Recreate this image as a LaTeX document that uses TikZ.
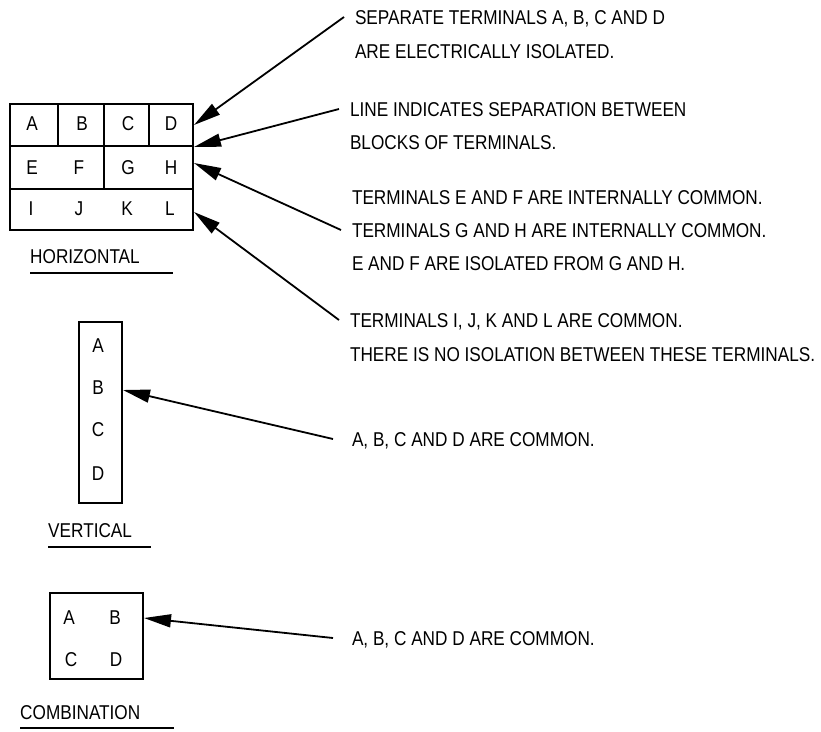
\documentclass[tikz,border=0pt]{standalone}
\usepackage{fontspec}
\setmainfont{Liberation Sans}[FakeStretch=0.86]
\usetikzlibrary{arrows.meta}

\begin{document}
\begin{tikzpicture}[
    x=1pt, y=-1pt,
    txt/.style={
        inner sep=0pt, text height=14.5pt, text depth=0pt,
        font=\fontsize{20}{24}\selectfont
    },
    note/.style={txt, anchor=west, outer xsep=11pt, outer ysep=0pt},
    term/.style={txt},
    block/.style={draw, line width=2pt, inner sep=0pt},
    rule/.style={line width=2pt},
    pointer/.style={line width=1.8pt, -{Triangle[length=27pt,width=13pt]}}
]
    \useasboundingbox (0,0) rectangle (821,731);

    % --- 1. Horizontal block ---
    \node[block, minimum width=183pt, minimum height=126pt] (hblock) at (101.5,167) {};
    \draw[rule] (10,146) -- (193,146)
                (10,189) -- (193,189)
                (58,104) -- (58,146)
                (149,104) -- (149,146)
                (104,104) -- (104,189);
    \foreach \t/\x/\y in {A/32/123, B/82/123, C/128/123, D/171/123,
                          E/32/167, F/79/167, G/128/167, H/171/167,
                          I/31/208, J/79/208, K/127/208, L/170/208}
        \node[term] (h\t) at (\x,\y) {\t};
    \node[txt, anchor=west] (hname) at (30,256) {HORIZONTAL};
    \draw[rule] (30,273) -- (173,273);

    \coordinate (tipD)  at (194,125);
    \coordinate (tipRow) at (194,147);
    \coordinate (tipH)  at (194,163);
    \coordinate (tipL)  at (194,212);

    \node[note] (sepA) at (344,17) {SEPARATE TERMINALS A, B, C AND D};
    \node[note] (sepB) at (344,51) {ARE ELECTRICALLY ISOLATED.};
    \node[note] (lineA) at (339,109) {LINE INDICATES SEPARATION BETWEEN};
    \node[note] (lineB) at (339,142) {BLOCKS OF TERMINALS.};
    \node[note] (efA) at (341,197) {TERMINALS E AND F ARE INTERNALLY COMMON.};
    \node[note] (efB) at (341,230) {TERMINALS G AND H ARE INTERNALLY COMMON.};
    \node[note] (efC) at (341,263) {E AND F ARE ISOLATED FROM G AND H.};
    \node[note] (ijA) at (339,320) {TERMINALS I, J, K AND L ARE COMMON.};
    \node[note] (ijB) at (339,354) {THERE IS NO ISOLATION BETWEEN THESE TERMINALS.};

    \draw[pointer] (sepA.west) -- (tipD);
    \draw[pointer] (lineA.west) -- (tipRow);
    \draw[pointer] (efB.west) -- (tipH);
    \draw[pointer] (ijA.west) -- (tipL);

    % --- 2. Vertical block ---
    \node[block, minimum width=43pt, minimum height=181pt] (vblock) at (100.5,412.5) {};
    \foreach \t/\y in {A/345, B/387, C/429, D/473}
        \node[term] (v\t) at (98,\y) {\t};
    \node[txt, anchor=west] (vname) at (48,530) {VERTICAL};
    \draw[rule] (48,547) -- (151,547);

    \coordinate (vtip) at (123,390);
    \node[note, outer xsep=19pt] (vnote) at (333,439) {A, B, C AND D ARE COMMON.};
    \draw[pointer] (vnote.west) -- (vtip);

    % --- 3. Combination block ---
    \node[block, minimum width=93pt, minimum height=86pt] (cblock) at (96.5,636) {};
    \foreach \t/\x/\y in {A/69/617, B/115/617, C/71/659, D/116/659}
        \node[term] (c\t) at (\x,\y) {\t};
    \node[txt, anchor=west] (cname) at (20,712) {COMBINATION};
    \draw[rule] (20,728) -- (174,728);

    \coordinate (ctip) at (144,618);
    \node[note, outer xsep=19pt] (cnote) at (333,638) {A, B, C AND D ARE COMMON.};
    \draw[pointer] (cnote.west) -- (ctip);
\end{tikzpicture}
\end{document}
